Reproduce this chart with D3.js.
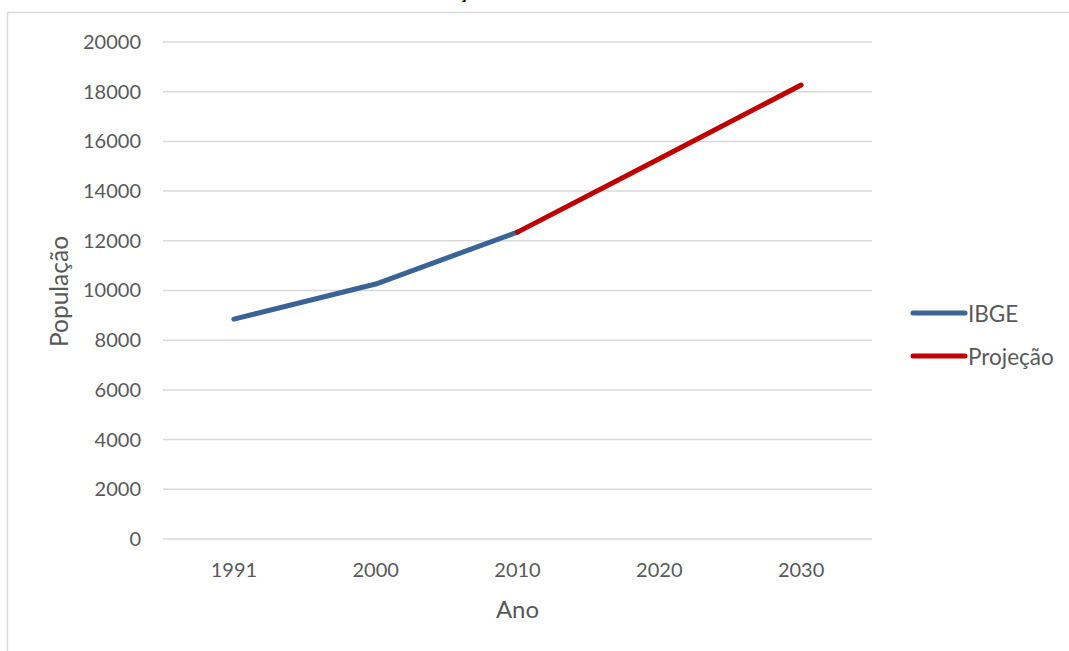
<!DOCTYPE html>
<html>
<head>
<meta charset="utf-8">
<script src="https://cdn.jsdelivr.net/npm/d3@7"></script>
<style>
  html, body { margin: 0; padding: 0; background: #fff; }
  svg { display: block; }
  text { font-family: Lato, "Open Sans", sans-serif; fill: #595959; }
</style>
</head>
<body>
<svg id="chart" width="1069" height="651"></svg>
<script>
// Population by year: census counts and projection
const years = ["1991", "2000", "2010", "2020", "2030"];
const ibgeYears = ["1991", "2000", "2010"];
const ibgeValues = [8850, 10260, 12350];
const projYears = ["2010", "2020", "2030"];
const projValues = [12350, 15300, 18270];
const yTicks = [0, 2000, 4000, 6000, 8000, 10000, 12000, 14000, 16000, 18000, 20000];
const seriesNames = ["IBGE", "Projeção"];
const seriesColors = ["#3A6496", "#C00000"];

const svg = d3.select("#chart");
const W = 1069, H = 651;
const plot = { left: 163, right: 872, top: 42, bottom: 539 };

// chart frame
svg.append("rect")
  .attr("x", 7.5).attr("y", 12.5)
  .attr("width", W + 20).attr("height", H + 20)
  .attr("fill", "none").attr("stroke", "#d9d9d9").attr("stroke-width", 1.5);

// title (runs off the top edge)
const title = svg.append("text")
  .attr("y", -1)
  .attr("font-size", 19).attr("font-weight", "bold")
  .style("fill", "#000")
  .text("Evolução");
const tNode = title.node();
const cPos = tNode.getStartPositionOfChar(5).x;
const cW = tNode.getExtentOfChar(5).width;
title.attr("x", 463 - (cPos + cW / 2));

const x = d3.scaleBand().domain(years).range([plot.left, plot.right]);
const y = d3.scaleLinear().domain([0, 20000]).range([plot.bottom, plot.top]);

// gridlines
svg.append("g")
  .selectAll("line").data(yTicks).join("line")
  .attr("x1", plot.left).attr("x2", plot.right)
  .attr("y1", d => y(d)).attr("y2", d => y(d))
  .attr("stroke", "#d9d9d9").attr("stroke-width", 1.5);

// y axis labels
const yAxis = d3.axisLeft(y).tickValues(yTicks).tickSize(0).tickPadding(22).tickFormat(d3.format("d"));
const gy = svg.append("g").attr("transform", `translate(${plot.left},0)`).call(yAxis);
gy.select(".domain").remove();
gy.selectAll("text").attr("font-size", 20).attr("font-family", null).attr("fill", null);

// x axis labels
const xAxis = d3.axisBottom(x).tickSize(0).tickPadding(24);
const gx = svg.append("g").attr("transform", `translate(0,${plot.bottom})`).call(xAxis);
gx.select(".domain").remove();
gx.selectAll("text").attr("font-size", 20).attr("font-family", null).attr("fill", null);

// axis titles
svg.append("text")
  .attr("x", (plot.left + plot.right) / 2).attr("y", 618)
  .attr("text-anchor", "middle").attr("font-size", 24)
  .text("Ano");
svg.append("text")
  .attr("transform", `translate(68,${(plot.top + plot.bottom) / 2 + 1}) rotate(-90)`)
  .attr("text-anchor", "middle").attr("font-size", 24.5)
  .text("População");

// series lines
const line = d3.line()
  .x(d => x(d[0]) + x.bandwidth() / 2)
  .y(d => y(d[1]));

const series = [
  d3.zip(ibgeYears, ibgeValues),
  d3.zip(projYears, projValues)
];

svg.append("g").selectAll("path").data(series).join("path")
  .attr("d", line)
  .attr("fill", "none")
  .attr("stroke", (d, i) => seriesColors[i])
  .attr("stroke-width", 5)
  .attr("stroke-linecap", "round")
  .attr("stroke-linejoin", "round");

// legend
const legend = svg.append("g").selectAll("g").data(seriesNames).join("g")
  .attr("transform", (d, i) => `translate(913,${313 + i * 43})`);
legend.append("line")
  .attr("x1", 0).attr("x2", 52).attr("y1", 0).attr("y2", 0)
  .attr("stroke", (d, i) => seriesColors[i])
  .attr("stroke-width", 5).attr("stroke-linecap", "round");
legend.append("text")
  .attr("x", 55).attr("y", 1).attr("dy", "0.35em")
  .attr("font-size", 22.5)
  .text(d => d);
</script>
</body>
</html>
